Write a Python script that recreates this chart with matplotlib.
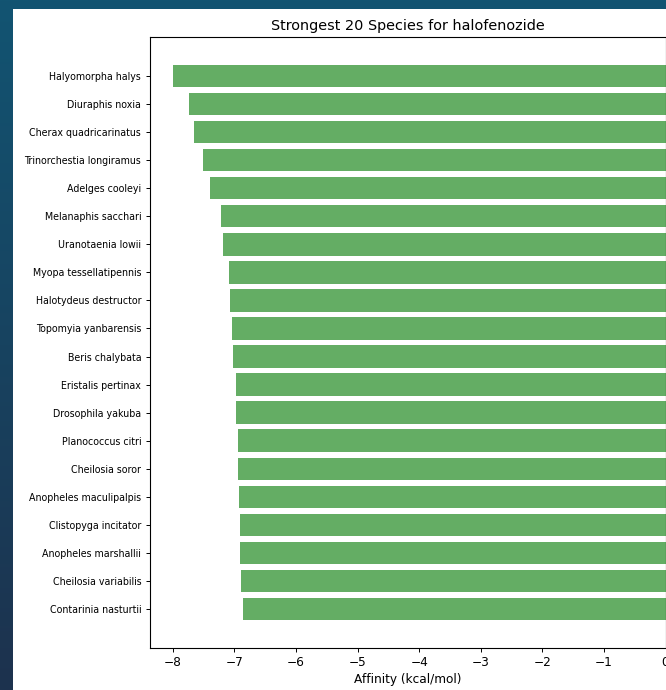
import numpy as np
import matplotlib
matplotlib.use("Agg")
import matplotlib.pyplot as plt

species = [
    "Halyomorpha halys", "Diuraphis noxia", "Cherax quadricarinatus",
    "Trinorchestia longiramus", "Adelges cooleyi", "Melanaphis sacchari",
    "Uranotaenia lowii", "Myopa tessellatipennis", "Halotydeus destructor",
    "Topomyia yanbarensis", "Beris chalybata", "Eristalis pertinax",
    "Drosophila yakuba", "Planococcus citri", "Cheilosia soror",
    "Anopheles maculipalpis", "Clistopyga incitator", "Anopheles marshallii",
    "Cheilosia variabilis", "Contarinia nasturtii",
]
affinity = [
    -8.00, -7.74, -7.66, -7.51, -7.40, -7.22, -7.19, -7.09, -7.07, -7.04,
    -7.02, -6.98, -6.98, -6.94, -6.94, -6.93, -6.91, -6.91, -6.89, -6.86,
]
x_ticks = [-8, -7, -6, -5, -4, -3, -2, -1, 0]

W, H = 666, 690
fig = plt.figure(figsize=(W / 100, H / 100), dpi=100)

# dark page backdrop with a soft vertical gradient
bg = fig.add_axes([0, 0, 1, 1])
top = np.array([18, 84, 114]) / 255
bottom = np.array([29, 50, 78]) / 255
t = np.linspace(0, 1, 256)[:, None]
grad = (top[None, :] * (1 - t) + bottom[None, :] * t)[:, None, :]
bg.imshow(grad, aspect="auto", extent=[0, 1, 0, 1])
bg.add_patch(plt.Rectangle((13 / W, 0), 1 - 13 / W, 1 - 9 / H,
                           facecolor="white", edgecolor="none"))
bg.set_xlim(0, 1)
bg.set_ylim(0, 1)
bg.axis("off")

left, right = 149.5 / W, 665.5 / W
bottom_px, top_px = 648, 37
ax = fig.add_axes([left, 1 - bottom_px / H, right - left, (bottom_px - top_px) / H])
ax.set_facecolor("white")

ypos = np.arange(len(species))
ax.barh(ypos, affinity, height=0.8, color="#64ad64")
ax.set_yticks(ypos)
ax.set_yticklabels(species, fontsize=6.85)
ax.tick_params(axis="both", length=3.0, width=0.7, pad=3)
ax.set_ylim(len(species) - 0.6 + 0.99, -0.4 - 0.99)
ax.set_xlim(-8.38, 0)
ax.set_xticks(x_ticks)
ax.set_xticklabels([f"\u2212{abs(v)}" if v < 0 else str(v) for v in x_ticks], fontsize=8.7)
ax.set_xlabel("Affinity (kcal/mol)", fontsize=8.7, labelpad=3)
ax.set_title("Strongest 20 Species for halofenozide", fontsize=10.4, pad=5)
for s in ax.spines.values():
    s.set_linewidth(0.8)

fig.savefig("out.png", dpi=100)
